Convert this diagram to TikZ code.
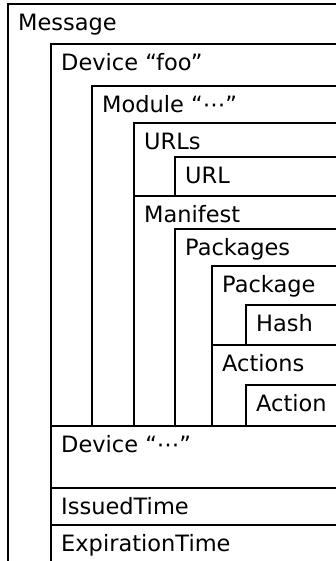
\documentclass[tikz,border=0pt]{standalone}
\usepackage{fontspec}
\setmainfont{DejaVu Sans}
\usetikzlibrary{positioning}

\begin{document}
\begin{tikzpicture}[x=1pt, y=-1pt, frame/.style={draw, line width=1.5pt}, lbl/.style={anchor=base west, inner sep=0pt, font=\fontsize{22.5}{26}\selectfont}]
\useasboundingbox (0,0) rectangle (336,561);
\clip (0,0) rectangle (336,561);
% nested boxes, open to the right and bottom
\draw[frame] (340,4) -| (8,565);
\draw[frame] (340,44) -| (51,565);
\draw[frame] (340,86) -| (92,426);
\draw[frame] (340,123) -| (134,426);
\draw[frame] (340,157) -| (175,196);
\draw[frame] (134,196) -- (340,196);
\draw[frame] (340,229) -| (175,426);
\draw[frame] (340,266) -| (212,426);
\draw[frame] (340,305) -| (246,345);
\draw[frame] (212,345) -- (340,345);
\draw[frame] (340,385) -| (246,426);
\draw[frame] (51,426) -- (340,426);
\draw[frame] (51,488) -- (340,488);
\draw[frame] (51,525) -- (340,525);
% labels
\node[lbl] (msg) at (18,30.5) {Message};
\node[lbl] (devfoo) at (61,70.5) {Device “foo”};
\node[lbl] (mod) at (102,112.5) {Module “⋯”};
\node[lbl] (urls) at (144,149.5) {URLs};
\node[lbl] (url) at (185,183.5) {URL};
\node[lbl] (mani) at (144,222.5) {Manifest};
\node[lbl] (pkgs) at (185,255.5) {Packages};
\node[lbl] (pkg) at (222,292.5) {Package};
\node[lbl] (hash) at (256,331.5) {Hash};
\node[lbl] (acts) at (222,371.5) {Actions};
\node[lbl] (act) at (256,411.5) {Action};
\node[lbl] (devdots) at (61,452.5) {Device “⋯”};
\node[lbl] (issued) at (61,514.5) {IssuedTime};
\node[lbl] (expire) at (61,551.5) {ExpirationTime};
\end{tikzpicture}
\end{document}
